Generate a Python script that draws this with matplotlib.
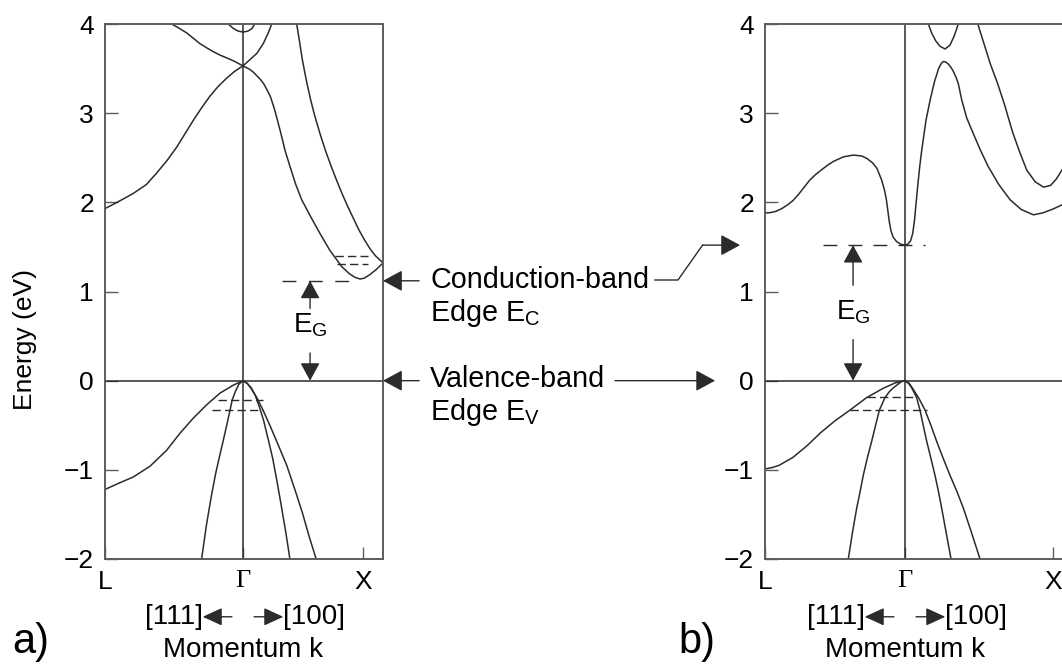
import matplotlib
matplotlib.use("Agg")
import matplotlib.pyplot as plt
from matplotlib.lines import Line2D
from matplotlib.transforms import offset_copy

plt.rcParams.update({
    "font.family": ["Liberation Sans", "DejaVu Sans"],
    "mathtext.default": "regular",
    "font.size": 20,
})

INK = "#2b2b2b"
SPINE = "#5c5c5c"
W, H = 1062, 667

# k axis: L = -1, Gamma = 0, X marked per panel
E_TICKS = [-2, -1, 0, 1, 2, 3, 4]
K_LABELS = ["L", "Γ", "X"]
K_X_SI = 0.87
K_X_GAAS = 1.057
EV = 0.0
EC_SI = 1.12
EC_GAAS = 1.52

# ---- Si (indirect gap) ----
si_cb1_k = [-1.0, -0.9, -0.795, -0.7, -0.625, -0.55, -0.48, -0.42, -0.36, -0.3, -0.24, -0.18, -0.12, -0.06, 0.0]
si_cb1_e = [1.93, 2.01, 2.10, 2.20, 2.33, 2.47, 2.62, 2.77, 2.92, 3.06, 3.19, 3.30, 3.39, 3.47, 3.53]
si_cb2_k = [-0.517, -0.46, -0.408, -0.36, -0.312, -0.26, -0.215, -0.165, -0.118, -0.06, 0.0, 0.05, 0.1, 0.147, 0.183, 0.208]
si_cb2_e = [4.0, 3.95, 3.90, 3.84, 3.78, 3.73, 3.69, 3.65, 3.62, 3.58, 3.53, 3.60, 3.67, 3.78, 3.90, 4.0]
si_cb3_k = [0.0, 0.025, 0.05, 0.075, 0.1, 0.125, 0.15, 0.175, 0.2, 0.225, 0.25, 0.275, 0.305, 0.341, 0.38, 0.425, 0.49,
            0.558, 0.63, 0.715, 0.77, 0.81, 0.848, 0.88, 0.92, 0.968, 1.015]
si_cb3_e = [3.53, 3.51, 3.49, 3.46, 3.42, 3.38, 3.33, 3.26, 3.18, 3.06, 2.92, 2.77, 2.58, 2.40, 2.21, 2.03, 1.84,
            1.65, 1.46, 1.28, 1.20, 1.16, 1.14, 1.15, 1.19, 1.25, 1.32]
si_cb4_k = [0.389, 0.41, 0.43, 0.46, 0.49, 0.52, 0.56, 0.60, 0.64, 0.68, 0.72, 0.76, 0.80, 0.84, 0.88, 0.92, 0.96, 1.015]
si_cb4_e = [4.0, 3.80, 3.60, 3.36, 3.15, 2.97, 2.76, 2.57, 2.40, 2.24, 2.09, 1.95, 1.82, 1.69, 1.58, 1.48, 1.40, 1.32]
si_cb5_k = [-0.106, -0.07, -0.034, 0.0, 0.036, 0.065, 0.085]
si_cb5_e = [4.0, 3.95, 3.92, 3.91, 3.92, 3.95, 4.0]

si_vb1_k = [-1.0, -0.9, -0.795, -0.674, -0.553, -0.457, -0.36, -0.263, -0.167, -0.07, 0.0]
si_vb1_e = [-1.22, -1.15, -1.08, -0.96, -0.78, -0.59, -0.42, -0.27, -0.14, -0.05, 0.0]
si_vb2_k = [-0.30, -0.265, -0.23, -0.198, -0.17, -0.14, -0.115, -0.094, -0.078, -0.055, -0.03, 0.0]
si_vb2_e = [-2.0, -1.62, -1.30, -1.04, -0.85, -0.65, -0.48, -0.33, -0.215, -0.12, -0.04, 0.0]
si_vb3_k = [0.0, 0.03, 0.06, 0.09, 0.12, 0.15, 0.183, 0.215, 0.244, 0.275, 0.31, 0.34]
si_vb3_e = [0.0, -0.03, -0.08, -0.17, -0.30, -0.45, -0.66, -0.87, -1.11, -1.38, -1.70, -2.0]
si_vb4_k = [0.0, 0.03, 0.06, 0.1, 0.145, 0.2, 0.255, 0.317, 0.38, 0.43, 0.48, 0.53]
si_vb4_e = [0.0, -0.03, -0.09, -0.19, -0.33, -0.52, -0.72, -0.95, -1.24, -1.48, -1.75, -2.0]

# short level marks: (energy, k_start, k_end)
si_levels = [(1.40, 0.667, 0.908), (1.31, 0.679, 0.908), (-0.215, -0.179, 0.147), (-0.33, -0.222, 0.147)]
si_ec_span = (0.28, 0.775)

# ---- GaAs (direct gap) ----
ga_cb1_k = [-1.0, -0.96, -0.92, -0.88, -0.84, -0.8, -0.76, -0.72, -0.68, -0.64, -0.6, -0.55, -0.51, -0.44, -0.37, -0.31,
            -0.27, -0.23, -0.2, -0.167, -0.147, -0.133, -0.122, -0.112, -0.1, -0.085, -0.06, -0.03,
            0.0, 0.02, 0.04, 0.055, 0.068, 0.078, 0.09, 0.105, 0.12, 0.15, 0.18, 0.21, 0.24, 0.26, 0.274, 0.29, 0.31,
            0.33, 0.345, 0.365, 0.381, 0.405, 0.44, 0.488, 0.54, 0.595, 0.67, 0.75, 0.83, 0.917, 0.98, 1.05, 1.12, 1.2]
ga_cb1_e = [1.88, 1.885, 1.90, 1.93, 1.97, 2.02, 2.09, 2.17, 2.25, 2.31, 2.36, 2.42, 2.46, 2.51, 2.53, 2.52,
            2.49, 2.44, 2.38, 2.25, 2.14, 2.03, 1.90, 1.78, 1.68, 1.61, 1.56, 1.53,
            1.52, 1.53, 1.57, 1.65, 1.80, 1.97, 2.17, 2.40, 2.59, 2.92, 3.15, 3.35, 3.50, 3.56, 3.58, 3.575, 3.55,
            3.51, 3.47, 3.40, 3.33, 3.15, 2.95, 2.77, 2.58, 2.40, 2.20, 2.03, 1.92, 1.86, 1.88, 1.92, 1.97, 2.03]
ga_cb2_k = [0.52, 0.56, 0.61, 0.66, 0.71, 0.77, 0.82, 0.87, 0.93, 0.99, 1.04, 1.08, 1.12, 1.2]
ga_cb2_e = [4.0, 3.80, 3.55, 3.34, 3.10, 2.78, 2.56, 2.36, 2.23, 2.17, 2.19, 2.26, 2.36, 2.55]
ga_cb3_k = [0.167, 0.19, 0.22, 0.25, 0.286, 0.32, 0.35, 0.381]
ga_cb3_e = [4.0, 3.90, 3.81, 3.75, 3.72, 3.76, 3.86, 4.0]

ga_vb1_k = [-1.0, -0.95, -0.9, -0.8, -0.7, -0.6, -0.5, -0.393, -0.274, -0.155, -0.07, 0.0]
ga_vb1_e = [-0.99, -0.975, -0.95, -0.86, -0.73, -0.58, -0.45, -0.33, -0.19, -0.085, -0.025, 0.0]
ga_vb2_k = [-0.405, -0.375, -0.345, -0.32, -0.298, -0.268, -0.238, -0.21, -0.183, -0.143, -0.11, -0.083, -0.05, -0.025, 0.0]
ga_vb2_e = [-2.0, -1.70, -1.43, -1.24, -1.06, -0.86, -0.68, -0.50, -0.33, -0.19, -0.12, -0.08, -0.04, -0.01, 0.0]
ga_vb3_k = [0.0, 0.025, 0.048, 0.083, 0.107, 0.13, 0.155, 0.185, 0.214, 0.24, 0.262, 0.29, 0.31, 0.329]
ga_vb3_e = [0.0, -0.03, -0.08, -0.19, -0.33, -0.50, -0.68, -0.87, -1.06, -1.25, -1.43, -1.67, -1.84, -2.0]
ga_vb4_k = [0.0, 0.03, 0.06, 0.1, 0.143, 0.185, 0.226, 0.27, 0.321, 0.37, 0.417, 0.47, 0.536]
ga_vb4_e = [0.0, -0.03, -0.10, -0.20, -0.33, -0.50, -0.68, -0.86, -1.06, -1.24, -1.43, -1.68, -2.0]

ga_levels = [(-0.185, -0.274, 0.083), (-0.33, -0.393, 0.155)]
ga_ec_span = (-0.586, 0.143)


def arrow(hl, hw, lw=1.0):
    return dict(arrowstyle=f"-|>,head_length={hl},head_width={hw}", mutation_scale=10,
                color=INK, lw=lw, shrinkA=0, shrinkB=0)


def setup_panel(ax, k_x, k_max):
    ax.set_xlim(-1.0, k_max)
    ax.set_ylim(-2, 4)
    ax.set_yticks(E_TICKS)
    ax.set_xticks([-1.0, 0.0, k_x])
    ax.set_xticklabels(K_LABELS)
    ax.get_xticklabels()[1].set_fontfamily("Liberation Serif")
    ax.tick_params(direction="in", length=9, width=1.0, color=SPINE, labelsize=19, pad=8)
    for s in ax.spines.values():
        s.set_color(SPINE)
        s.set_linewidth(1.4)
    ax.axvline(0.0, color=INK, lw=1.1)
    ax.axhline(EV, color=INK, lw=1.1)


def draw_bands(ax, bands):
    for k, e in bands:
        ax.plot(k, e, color=INK, lw=1.1, solid_capstyle="round", solid_joinstyle="round")


def draw_gap(ax, k, ec, tail_up, tail_down, text_e):
    ax.annotate("", xy=(k, ec), xytext=(k, tail_up), arrowprops=arrow(1.1, 0.6))
    ax.annotate("", xy=(k, EV), xytext=(k, tail_down), arrowprops=arrow(1.1, 0.6))
    ax.text(k, text_e, "E$_G$", ha="center", va="center", fontsize=20)


def momentum_axis(ax):
    tr = ax.get_xaxis_transform()
    y = -0.108
    for sign, txt, ha in [(-1, "[111]", "right"), (1, "[100]", "left")]:
        tip = offset_copy(tr, fig=ax.figure, x=sign * 29, y=0, units="points")
        tail = offset_copy(tr, fig=ax.figure, x=sign * 8, y=0, units="points")
        ax.annotate("", xy=(0, y), xycoords=tip, xytext=(0, y), textcoords=tail,
                    arrowprops=arrow(1.2, 0.55), annotation_clip=False)
        ax.text(0, y, txt, transform=tip, ha=ha, va="center", fontsize=20, clip_on=False)
    ax.text(0, -0.17, "Momentum k", transform=tr, ha="center", va="center", fontsize=20)


fig = plt.figure(figsize=(W / 100, H / 100), dpi=100)
ax1 = fig.add_axes([105 / W, 108 / H, 278 / W, 535 / H])
ax2 = fig.add_axes([765 / W, 108 / H, 308 / W, 535 / H])

setup_panel(ax1, K_X_SI, 1.0145)
setup_panel(ax2, K_X_GAAS, 1.2)

draw_bands(ax1, [(si_cb1_k, si_cb1_e), (si_cb2_k, si_cb2_e), (si_cb3_k, si_cb3_e),
                 (si_cb4_k, si_cb4_e), (si_cb5_k, si_cb5_e),
                 (si_vb1_k, si_vb1_e), (si_vb2_k, si_vb2_e), (si_vb3_k, si_vb3_e), (si_vb4_k, si_vb4_e)])
draw_bands(ax2, [(ga_cb1_k, ga_cb1_e), (ga_cb2_k, ga_cb2_e), (ga_cb3_k, ga_cb3_e),
                 (ga_vb1_k, ga_vb1_e), (ga_vb2_k, ga_vb2_e), (ga_vb3_k, ga_vb3_e), (ga_vb4_k, ga_vb4_e)])

# band-edge and level dashes
ax1.plot(si_ec_span, [EC_SI, EC_SI], color=INK, lw=1.0, ls=(0, (10, 9)))
ax2.plot(ga_ec_span, [EC_GAAS, EC_GAAS], color=INK, lw=1.0, ls=(0, (10, 8)))
for ax, levels in [(ax1, si_levels), (ax2, ga_levels)]:
    for e, k0, k1 in levels:
        ax.plot([k0, k1], [e, e], color=INK, lw=1.0, ls=(0, (6, 3)))

draw_gap(ax1, 0.486, EC_SI, 0.81, 0.31, 0.62)
draw_gap(ax2, -0.371, EC_GAAS, 1.07, 0.46, 0.77)

ax1.text(-0.288, 0.41, "Energy (eV)", transform=ax1.transAxes, rotation=90,
         ha="center", va="center", fontsize=19)

momentum_axis(ax1)
momentum_axis(ax2)

fig.text(31 / W, 1 - 642 / H, "a)", ha="center", va="center", fontsize=30)
fig.text(697 / W, 1 - 642 / H, "b)", ha="center", va="center", fontsize=30)

# edge labels between the panels
x_txt = 430 / W
fig.text(x_txt, 1 - 288 / H, "Conduction-band", fontsize=20.7, va="baseline")
fig.text(x_txt, 1 - 321 / H, "Edge E$_C$", fontsize=20.7, va="baseline")
fig.text(x_txt, 1 - 387 / H, "Valence-band", fontsize=20.7, va="baseline")
fig.text(x_txt, 1 - 420 / H, "Edge E$_V$", fontsize=20.7, va="baseline")

ytr1 = ax1.get_yaxis_transform()
ytr2 = ax2.get_yaxis_transform()
for e in (EC_SI, EV):
    ax1.annotate("", xy=(1.0, e), xycoords=ytr1, xytext=(26, 0), textcoords="offset points",
                 arrowprops=arrow(1.2, 0.65), annotation_clip=False)

ec_tip = (-0.081, EC_GAAS)
ax2.annotate("", xy=ec_tip, xycoords=ytr2, xytext=(-27, 0), textcoords="offset points",
             arrowprops=arrow(1.2, 0.65), annotation_clip=False)
ax2.annotate("", xy=(-0.162, EV), xycoords=ytr2, xytext=(-72, 0), textcoords="offset points",
             arrowprops=arrow(1.2, 0.65), annotation_clip=False)

# bent leader from the conduction-band label to the GaAs edge arrow
tip_px = ytr2.transform(ec_tip)
tail_fig = fig.transFigure.inverted().transform((tip_px[0] - 27 * fig.dpi / 72, tip_px[1]))
lead_y = 1 - 280 / H
fig.add_artist(Line2D([655 / W, 678 / W, tail_fig[0]], [lead_y, lead_y, tail_fig[1]],
                      transform=fig.transFigure, color=INK, lw=1.0))

fig.savefig("out.png", dpi=100)
